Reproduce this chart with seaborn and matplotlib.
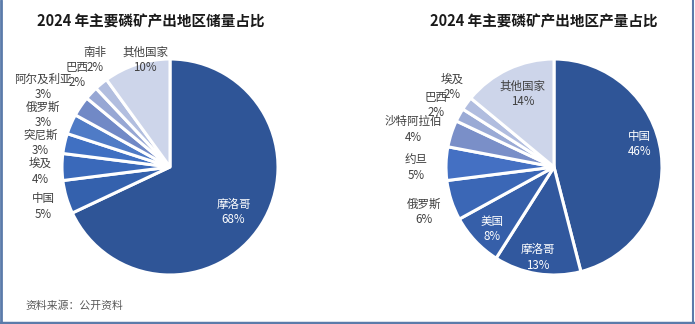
import numpy as np
import matplotlib
matplotlib.use("Agg")
import matplotlib.pyplot as plt
import seaborn as sns
from matplotlib.lines import Line2D

sns.set_theme(style="white")
plt.rcParams['font.family'] = ['Noto Sans CJK SC', 'DejaVu Sans']

# ---- data ----
reserve_title = "2024 年主要磷矿产出地区储量占比"
reserve_labels = ["摩洛哥", "中国", "埃及", "突尼斯", "俄罗斯", "阿尔及利亚", "巴西", "南非", "其他国家"]
reserve_values = [68, 5, 4, 3, 3, 3, 2, 2, 10]

output_title = "2024 年主要磷矿产出地区产量占比"
output_labels = ["中国", "摩洛哥", "美国", "俄罗斯", "约旦", "沙特阿拉伯", "巴西", "埃及", "其他国家"]
output_values = [46, 13, 8, 6, 5, 4, 2, 2, 14]

source_text = "资料来源：公开资料"

# ---- style ----
reserve_colors = ["#2F5597", "#3461AD", "#3A69BA", "#4070C2", "#4F7BC6", "#7189C6", "#97A7D4", "#B2BEDF", "#CDD5EA"]
output_colors = ["#2F5597", "#31589E", "#365FA9", "#3B67B6", "#4470C3", "#7A8FC8", "#9AAAD5", "#B1BDDF", "#CDD5EA"]
reserve_dist = [0.72, 1.23, 1.2, 1.22, 1.27, 1.39, 1.21, 1.21, 1.02]
reserve_angle_adj = [-3, 1, 2, 2, 1, 2, -1.5, -4.5, -5]
output_dist = [0.82, 0.85, 0.81, 1.27, 1.28, 1.35, 1.23, 1.2, 0.74]
output_angle_adj = [8, -1, 2, 1, 2, 3, 1, -2, -2]
W, H = 695, 324

fig = plt.figure(figsize=(W / 100, H / 100), dpi=100)
fig.patch.set_facecolor("white")


def draw_pie(cx, cy, r, values, labels, colors, dists, adj, title, tx, inside_white):
    ax = fig.add_axes([(cx - r) / W, (H - cy - r) / H, 2 * r / W, 2 * r / H])
    wedges, _ = ax.pie(values, colors=colors, startangle=90, counterclock=False,
                       wedgeprops=dict(edgecolor="white", linewidth=2.2), radius=1)
    ax.set_xlim(-1, 1)
    ax.set_ylim(-1, 1)
    ax.set_aspect("auto")
    ax.axis("off")
    for w, lab, v, d, a, white in zip(wedges, labels, values, dists, adj, inside_white):
        ang = np.deg2rad((w.theta1 + w.theta2) / 2 + a)
        x, y = d * np.cos(ang), d * np.sin(ang)
        col = "white" if white else "#404040"
        ax.text(x, y, f"{lab}\n{v}%", ha="center", va="center", fontsize=8.3,
                color=col, linespacing=1.25, clip_on=False)
    fig.text(tx / W, 1 - 22 / H, title, ha="center", va="center", fontsize=10.5,
             fontweight="bold", color="#1a1a1a")
    return ax


draw_pie(170, 167, 108, reserve_values, reserve_labels, reserve_colors,
         reserve_dist, reserve_angle_adj, reserve_title, 151,
         [True] + [False] * 8)
draw_pie(554, 167, 108, output_values, output_labels, output_colors,
         output_dist, output_angle_adj, output_title, 544,
         [True, True, True] + [False] * 6)

fig.text(25 / W, 1 - 306 / H, source_text, ha="left", va="center", fontsize=7.8, color="#595959")

# frame
bc = "#5B7BAA"
fig.add_artist(Line2D([1 / W, 1 / W], [0, 1], transform=fig.transFigure, color=bc, lw=2))
fig.add_artist(Line2D([0, 1], [1.5 / H, 1.5 / H], transform=fig.transFigure, color=bc, lw=2.5))
fig.add_artist(Line2D([1 - 2 / W, 1 - 2 / W], [0, 1], transform=fig.transFigure, color=bc, lw=1.5))

fig.savefig("out.png", dpi=100, facecolor="white")
